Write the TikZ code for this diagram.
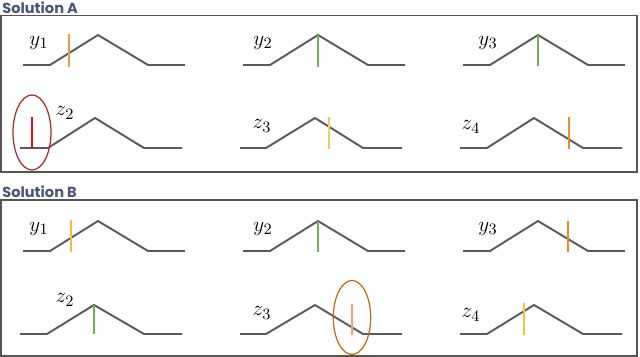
\documentclass[tikz,border=0pt]{standalone}
\usepackage{fontspec}
\newfontfamily\titlefont{Poppins}
\usetikzlibrary{positioning}
\definecolor{framegray}{HTML}{555555}
\definecolor{curvegray}{HTML}{5A5A5A}
\definecolor{titleblue}{HTML}{4B5577}
\definecolor{mkorange}{HTML}{EE9A45}
\definecolor{mkdeeporange}{HTML}{EC8A30}
\definecolor{mkyellow}{HTML}{F7C038}
\definecolor{mklightyellow}{HTML}{F6C66A}
\definecolor{mkpeach}{HTML}{F0A070}
\definecolor{mkgreen}{HTML}{6DB055}
\definecolor{mkred}{HTML}{D81818}
\definecolor{ringred}{HTML}{B02525}
\definecolor{ringbrown}{HTML}{C06A1A}

\begin{document}
\begin{tikzpicture}[x=0.02cm, y=-0.02cm,
            % ----- Styles -----
                frame/.style={draw=framegray, line width=0.9pt},
                title/.style={anchor=south west, inner sep=0pt, font=\titlefont\bfseries\fontsize{8.3}{9}\selectfont, text=titleblue},
                curve/.style={draw=curvegray, line width=1.1pt, line join=miter},
                marker/.style={line width=1.1pt},
                varlbl/.style={inner sep=0pt, font=\fontsize{13}{15}\selectfont},
                ring/.style={line width=0.7pt}
            ]
                \useasboundingbox (0,0) rectangle (640,357);

% ===================== Solution A ==============================
                \node[title] (titleA) at (2,14) {Solution A};
                \draw[frame] (1,15.5) rectangle (637,172);

% obere Reihe: y1, y2, y3
                \draw[curve] (23,65) -- ++(27,0) -- ++(48,-30) -- ++(50,30) -- ++(37,0);
                \draw[curve] (243,65) -- ++(27,0) -- ++(48,-30) -- ++(50,30) -- ++(37,0);
                \draw[curve] (463,65) -- ++(27,0) -- ++(48,-30) -- ++(50,30) -- ++(37,0);
                \node[varlbl] (yA1) at (39,43) {$y_1$};
                \node[varlbl] (yA2) at (263,43) {$y_2$};
                \node[varlbl] (yA3) at (488,43) {$y_3$};
                \draw[marker, mkorange] (69,34) -- (69,67);
                \draw[marker, mkgreen]  (318,35) -- (318,67);
                \draw[marker, mkgreen]  (538,35) -- (538,66);

% untere Reihe: z2, z3, z4
                \draw[curve] (20,148) -- ++(28,0) -- ++(47,-30) -- ++(49,30) -- ++(38,0);
                \draw[curve] (240,148) -- ++(26,0) -- ++(49,-30) -- ++(48,30) -- ++(39,0);
                \draw[curve] (460,148) -- ++(27,0) -- ++(47,-30) -- ++(49,30) -- ++(39,0);
                \node[varlbl] (zA2) at (65,113) {$z_2$};
                \node[varlbl] (zA3) at (262,126) {$z_3$};
                \node[varlbl] (zA4) at (471,127) {$z_4$};
                \draw[marker, mkred]          (32,117) -- (32,148);
                \draw[marker, mklightyellow]  (329,117) -- (329,149);
                \draw[marker, mkdeeporange]   (569,117) -- (569,149);
                \draw[ring, ringred] (32,132.5) ellipse (19 and 37.5);

% ===================== Solution B ==============================
                \node[title] (titleB) at (2,198) {Solution B};
                \draw[frame] (1,200) rectangle (637,356);

% obere Reihe: y1, y2, y3
                \draw[curve] (23,251) -- ++(27,0) -- ++(48,-30) -- ++(50,30) -- ++(37,0);
                \draw[curve] (243,251) -- ++(27,0) -- ++(48,-30) -- ++(50,30) -- ++(37,0);
                \draw[curve] (463,251) -- ++(27,0) -- ++(48,-30) -- ++(50,30) -- ++(37,0);
                \node[varlbl] (yB1) at (39,229) {$y_1$};
                \node[varlbl] (yB2) at (263,229) {$y_2$};
                \node[varlbl] (yB3) at (488,229) {$y_3$};
                \draw[marker, mkyellow]      (71,220) -- (71,252);
                \draw[marker, mkgreen]       (318,221) -- (318,252);
                \draw[marker, mkdeeporange]  (568,221) -- (568,252);

% untere Reihe: z2, z3, z4
                \draw[curve] (20,334) -- ++(27,0) -- ++(47,-29) -- ++(50,29) -- ++(38,0);
                \draw[curve] (240,334) -- ++(26,0) -- ++(49,-29) -- ++(48,29) -- ++(39,0);
                \draw[curve] (460,334) -- ++(27,0) -- ++(47,-29) -- ++(49,29) -- ++(39,0);
                \node[varlbl] (zB2) at (65,300) {$z_2$};
                \node[varlbl] (zB3) at (262,313) {$z_3$};
                \node[varlbl] (zB4) at (471,315) {$z_4$};
                \draw[marker, mkgreen]   (94,305) -- (94,334);
                \draw[marker, mkpeach]   (352,304) -- (352,335);
                \draw[marker, mkyellow]  (524,303) -- (524,335);
                \draw[ring, ringbrown] (352,317.5) ellipse (18.7 and 37);

            \end{tikzpicture}
\end{document}
